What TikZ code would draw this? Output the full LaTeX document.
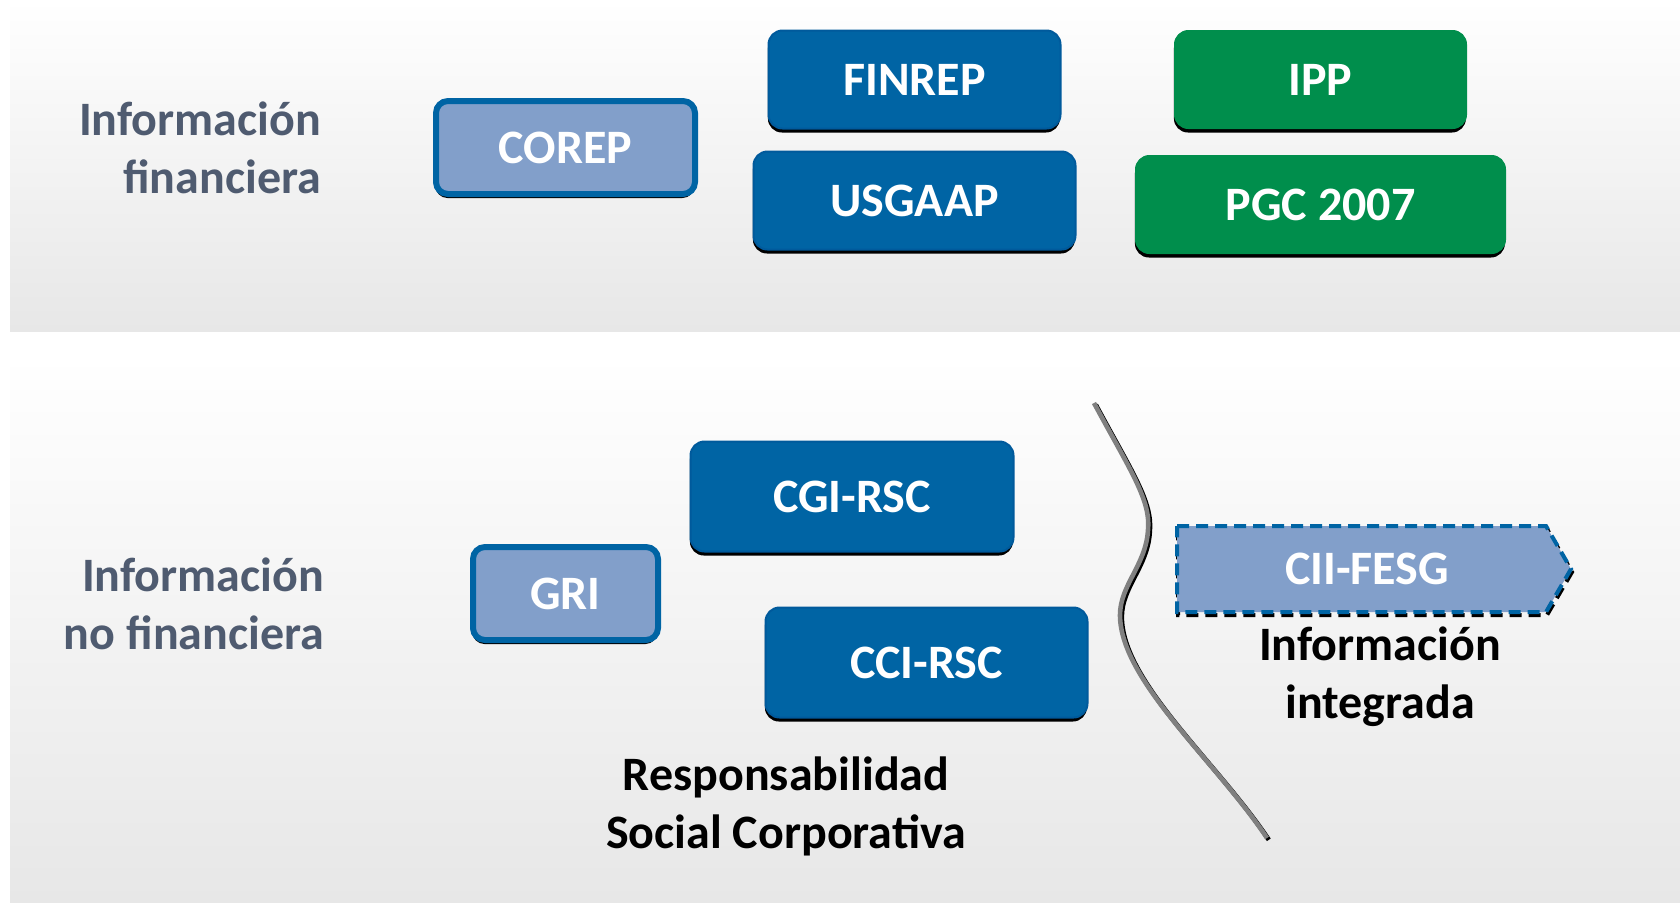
\documentclass[tikz,border=0pt]{standalone}
\usepackage{fontspec}
\setmainfont{Carlito}
\usetikzlibrary{shadows}
\definecolor{dblue}{HTML}{0064A4}
\definecolor{dblueb}{HTML}{005A9C}
\definecolor{lblue}{HTML}{829FCA}
\definecolor{grn}{HTML}{008E4C}
\definecolor{slate}{HTML}{4F5B70}
\definecolor{bandg}{HTML}{E7E7E7}
\definecolor{curvegray}{HTML}{808080}
\begin{document}
\begin{tikzpicture}[x=0.5pt,y=-0.5pt,
  lbl/.style={font=\bfseries\fontsize{24}{29}\selectfont},
  basebox/.style={rounded corners=7pt, inner sep=0pt, text=white, lbl,
    general shadow={fill=black, shadow yshift=-2pt, shadow xshift=-0.3pt}},
  darkbox/.style={basebox, fill=dblue, draw=dblueb, line width=1pt, minimum height=49pt},
  tallbox/.style={darkbox, minimum height=55pt},
  greenbox/.style={basebox, fill=grn, draw=grn, line width=0.5pt, minimum height=49pt},
  lightbox/.style={basebox, rounded corners=6pt, fill=lblue, draw=dblue, line width=3pt, minimum height=46.5pt},
  sidelbl/.style={lbl, text=slate, align=right, anchor=east},
  blacklbl/.style={lbl, text=black, align=center},
  dashline/.style={line width=2pt, dash pattern=on 6pt off 3.5pt},
  divider/.style={line width=2.3pt, line cap=butt}
]
\useasboundingbox (0,0) rectangle (1680,902);
% background bands
\shade[top color=white, bottom color=bandg] (10,0) rectangle (1680,331);
\shade[top color=white, bottom color=bandg] (10,355) rectangle (1680,902);

% side labels
\node[sidelbl] (finlbl) at (328,148) {Información\\financiera};
\node[sidelbl] (nofinlbl) at (331,604) {Información\\no financiera};

% financial boxes
\node[lightbox, minimum width=129.5pt] (corep) at (565.5,147.5) {COREP};
\node[darkbox, minimum width=146pt] (finrep) at (914.5,79.5) {FINREP};
\node[darkbox, minimum width=161pt] (usgaap) at (914.5,200.5) {USGAAP};
\node[greenbox, minimum width=146pt] (ipp) at (1320.5,79.5) {IPP};
\node[greenbox, minimum width=185pt] (pgc) at (1320.5,204.5) {PGC 2007};

% non-financial boxes
\node[tallbox, minimum width=161.5pt] (cgi) at (852,496.5) {CGI-RSC};
\node[lightbox, minimum width=92.5pt] (gri) at (565.5,593.5) {GRI};
\node[tallbox, minimum width=161pt] (cci) at (926.5,662.5) {CCI-RSC};

\node[blacklbl] (rsc) at (786,806) {Responsabilidad\\Social Corporativa};

% divider curve
\draw[divider, black, shift={(1.8,1.8)}] (1094,403) .. controls (1130,470) and (1151,500) .. (1148,530)
  .. controls (1146,565) and (1120,585) .. (1120,615)
  .. controls (1120,680) and (1215,760) .. (1267,838);
\draw[divider, curvegray] (1094,403) .. controls (1130,470) and (1151,500) .. (1148,530)
  .. controls (1146,565) and (1120,585) .. (1120,615)
  .. controls (1120,680) and (1215,760) .. (1267,838);

% integrated information arrow
\draw[dashline, black, shift={(1,3)}] (1177,526) -- (1546,526) -- (1571,569) -- (1546,612) -- (1177,612) -- cycle;
\fill[lblue] (1177,526) -- (1546,526) -- (1571,569) -- (1546,612) -- (1177,612) -- cycle;
\draw[dashline, dblue] (1177,526) -- (1546,526) -- (1571,569) -- (1546,612) -- (1177,612) -- cycle;
\node[lbl, text=white] (cii) at (1367,569) {CII-FESG};

\node[blacklbl] (integ) at (1380,677) {Información\\integrada};
\end{tikzpicture}
\end{document}
